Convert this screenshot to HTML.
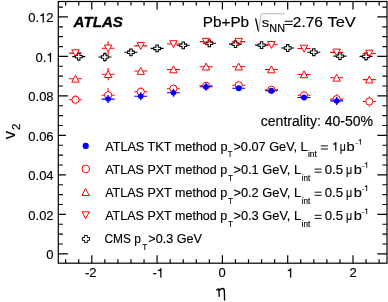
<!DOCTYPE html>
<html><head><meta charset="utf-8"><style>
html,body{margin:0;padding:0;background:#fff;}
svg{display:block;will-change:transform;}
text{font-family:"Liberation Sans",sans-serif;fill:#000;stroke:#000;stroke-width:0.15px;}
</style></head><body>
<svg width="388" height="302" viewBox="0 0 388 302">
<rect width="388" height="302" fill="#fff"/>
<rect x="58.3" y="1.5" width="328.7" height="261.7" fill="none" stroke="#000" stroke-width="1.2"/>
<path d="M58.3 253.85h9.6M387 253.85h-9.6M58.3 243.98h4.6M387 243.98h-4.6M58.3 234.1h4.6M387 234.1h-4.6M58.3 224.23h4.6M387 224.23h-4.6M58.3 214.36h7.6M387 214.36h-9.6M58.3 204.49h4.6M387 204.49h-4.6M58.3 194.62h4.6M387 194.62h-4.6M58.3 184.74h4.6M387 184.74h-4.6M58.3 174.87h7.6M387 174.87h-9.6M58.3 165h4.6M387 165h-4.6M58.3 155.12h4.6M387 155.12h-4.6M58.3 145.25h4.6M387 145.25h-4.6M58.3 135.38h7.6M387 135.38h-9.6M58.3 125.51h4.6M387 125.51h-4.6M58.3 115.63h4.6M387 115.63h-4.6M58.3 105.76h4.6M387 105.76h-4.6M58.3 95.89h9.6M387 95.89h-9.6M58.3 86.02h4.6M387 86.02h-4.6M58.3 76.15h4.6M387 76.15h-4.6M58.3 66.27h4.6M387 66.27h-4.6M58.3 56.4h9.6M387 56.4h-9.6M58.3 46.53h4.6M387 46.53h-4.6M58.3 36.66h4.6M387 36.66h-4.6M58.3 26.78h4.6M387 26.78h-4.6M58.3 16.91h9.6M387 16.91h-9.6M58.3 7.04h4.6M387 7.04h-4.6M65.68 263.2v-4M65.68 1.5v4M78.74 263.2v-4M78.74 1.5v4M91.8 263.2v-8M91.8 1.5v8M104.86 263.2v-4M104.86 1.5v4M117.92 263.2v-4M117.92 1.5v4M130.98 263.2v-4M130.98 1.5v4M144.04 263.2v-4M144.04 1.5v4M157.1 263.2v-8M157.1 1.5v8M170.16 263.2v-4M170.16 1.5v4M183.22 263.2v-4M183.22 1.5v4M196.28 263.2v-4M196.28 1.5v4M209.34 263.2v-4M209.34 1.5v4M222.4 263.2v-8M222.4 1.5v8M235.46 263.2v-4M235.46 1.5v4M248.52 263.2v-4M248.52 1.5v4M261.58 263.2v-4M261.58 1.5v4M274.64 263.2v-4M274.64 1.5v4M287.7 263.2v-8M287.7 1.5v8M300.76 263.2v-4M300.76 1.5v4M313.82 263.2v-4M313.82 1.5v4M326.88 263.2v-4M326.88 1.5v4M339.94 263.2v-4M339.94 1.5v4M353 263.2v-8M353 1.5v8M366.06 263.2v-4M366.06 1.5v4M379.12 263.2v-4M379.12 1.5v4" stroke="#000" stroke-width="1.2" fill="none"/>
<text x="46.37" y="259.35" style="font-size:13px">0</text>
<text x="28.3" y="219.86" style="font-size:13px">0.02</text>
<text x="28.3" y="180.37" style="font-size:13px">0.04</text>
<text x="28.3" y="140.88" style="font-size:13px">0.06</text>
<text x="28.3" y="101.39" style="font-size:13px">0.08</text>
<text x="35.53" y="61.9" style="font-size:13px">0.</text><path d="M51.04 61.9L51.04 52.76L50.14 52.76C49.88 53.84 48.97 54.42 47.69 54.49L47.69 55.4L49.9 55.4L49.9 61.9Z" fill="#000" stroke="#000" stroke-width="0.15"/>
<text x="28.3" y="22.41" style="font-size:13px">0.</text><text x="46.37" y="22.41" style="font-size:13px">2</text><path d="M43.81 22.41L43.81 13.27L42.91 13.27C42.65 14.35 41.74 14.93 40.46 15L40.46 15.91L42.67 15.91L42.67 22.41Z" fill="#000" stroke="#000" stroke-width="0.15"/>
<text x="85" y="277.4" style="font-size:13px">-2</text>
<text x="152.4" y="277.4" style="font-size:13px">-</text><path d="M161.4 277.4L161.4 268.26L160.5 268.26C160.24 269.34 159.33 269.92 158.04 269.99L158.04 270.9L160.25 270.9L160.25 277.4Z" fill="#000" stroke="#000" stroke-width="0.15"/>
<text x="218.55" y="277.4" style="font-size:13px">0</text>
<path d="M291.22 277.4L291.22 268.26L290.32 268.26C290.06 269.34 289.15 269.92 287.86 269.99L287.86 270.9L290.07 270.9L290.07 277.4Z" fill="#000" stroke="#000" stroke-width="0.15"/>
<text x="349.4" y="277.4" style="font-size:13px">2</text>
<path d="M216.5 290.5Q217.6 288.5 218.8 289.1L219.3 296.9M219.2 290.7Q220.6 288.3 222.5 288.5Q224.4 288.8 224.35 291.2L224.6 300.4" stroke="#000" stroke-width="1.35" fill="none"/>
<g transform="translate(14.7,139.2) rotate(-90)"><text x="0" y="0" style="font-size:16.5px">v</text><text x="9.3" y="5.6" style="font-size:11.5px">2</text></g>
<text transform="translate(73.6,26.6) scale(0.9841,1)" style="font-size:15.4px;font-weight:bold;font-style:italic;stroke-width:0.3px">ATLAS</text>
<text transform="translate(202.72,26.65) scale(1.0646,1)" style="font-size:14.4px;">Pb+Pb</text>
<path d="M255.6 18.4L258.6 31.6" stroke="#000" stroke-width="1.3" fill="none"/>
<path d="M258.6 31.6L261.2 13.8H284.4" stroke="#888" stroke-width="0.6" fill="none"/>
<text transform="translate(261.84,26.6) scale(1.1429,1)" style="font-size:13.0px;">s</text>
<text transform="translate(269.36,31.8) scale(1.0530,1)" style="font-size:10.3px;">NN</text>
<path d="M284.8 21.25H292.8M284.8 24.45H292.8" stroke="#000" stroke-width="1.15"/>
<text transform="translate(292.87,26.6) scale(1.0400,1)" style="font-size:14.8px;">2.76</text>
<text transform="translate(327.47,26.6) scale(1.0984,1)" style="font-size:15.0px;">TeV</text>
<text transform="translate(260.79,125.5) scale(1.0174,1)" style="font-size:13.8px;">centrality: 40-50%</text>
<text transform="translate(105.2,150.6) scale(1.0201,1)" style="font-size:12.4px;">ATLAS TKT method p</text>
<text transform="translate(227.72,157.45) scale(0.8958,1)" style="font-size:8.5px;">T</text>
<text transform="translate(233.38,150.6) scale(1.0281,1)" style="font-size:12.4px;">&gt;0.07 GeV, L</text>
<text x="307.9" y="157.45" style="font-size:8.5px;">int</text>
<path d="M320.8 145.9H328M320.8 149H328" stroke="#000" stroke-width="0.95"/>
<path d="M336.3 150.6L336.3 141.88L335.44 141.88C335.2 142.91 334.33 143.47 333.1 143.53L333.1 144.4L335.21 144.4L335.21 150.6Z" fill="#000" stroke="#000" stroke-width="0.15"/>
<text transform="translate(339.72,150.6) scale(0.8519,1)" style="font-size:12.4px;">&#956;</text>
<text transform="translate(346.46,150.6) scale(1.1786,1)" style="font-size:12.4px;">b</text>
<text transform="translate(355.42,144.6) scale(0.9474,1)" style="font-size:8px;">-</text>
<path d="M360.8 144.6L360.8 138.98L360.25 138.98C360.09 139.64 359.53 140 358.74 140.04L358.74 140.6L360.1 140.6L360.1 144.6Z" fill="#000" stroke="#000" stroke-width="0.15"/>
<text transform="translate(105.2,173.8) scale(1.0108,1)" style="font-size:12.4px;">ATLAS PXT method p</text>
<text transform="translate(228.11,180.65) scale(0.9583,1)" style="font-size:8.5px;">T</text>
<text transform="translate(233.38,173.8) scale(1.0373,1)" style="font-size:12.4px;">&gt;0.1 GeV, L</text>
<text transform="translate(301.63,180.65) scale(0.9518,1)" style="font-size:8.5px;">int</text>
<path d="M314.6 169.1H321.6M314.6 172.2H321.6" stroke="#000" stroke-width="0.95"/>
<text transform="translate(324.77,173.8) scale(1.0617,1)" style="font-size:12.4px;">0.5</text>
<text transform="translate(346,173.8) scale(0.8704,1)" style="font-size:12.4px;">&#956;</text>
<text transform="translate(353.66,173.8) scale(1.1786,1)" style="font-size:12.4px;">b</text>
<text transform="translate(362.12,167.8) scale(0.9474,1)" style="font-size:8px;">-</text>
<path d="M367.1 167.8L367.1 162.18L366.55 162.18C366.39 162.84 365.83 163.2 365.04 163.24L365.04 163.8L366.4 163.8L366.4 167.8Z" fill="#000" stroke="#000" stroke-width="0.15"/>
<text transform="translate(105.2,196.9) scale(1.0108,1)" style="font-size:12.4px;">ATLAS PXT method p</text>
<text transform="translate(228.11,203.75) scale(0.9583,1)" style="font-size:8.5px;">T</text>
<text transform="translate(233.38,196.9) scale(1.0373,1)" style="font-size:12.4px;">&gt;0.2 GeV, L</text>
<text transform="translate(301.63,203.75) scale(0.9518,1)" style="font-size:8.5px;">int</text>
<path d="M314.6 192.2H321.6M314.6 195.3H321.6" stroke="#000" stroke-width="0.95"/>
<text transform="translate(324.77,196.9) scale(1.0617,1)" style="font-size:12.4px;">0.5</text>
<text transform="translate(346,196.9) scale(0.8704,1)" style="font-size:12.4px;">&#956;</text>
<text transform="translate(353.66,196.9) scale(1.1786,1)" style="font-size:12.4px;">b</text>
<text transform="translate(362.12,190.9) scale(0.9474,1)" style="font-size:8px;">-</text>
<path d="M367.1 190.9L367.1 185.28L366.55 185.28C366.39 185.94 365.83 186.3 365.04 186.34L365.04 186.9L366.4 186.9L366.4 190.9Z" fill="#000" stroke="#000" stroke-width="0.15"/>
<text transform="translate(105.2,220) scale(1.0108,1)" style="font-size:12.4px;">ATLAS PXT method p</text>
<text transform="translate(228.11,226.85) scale(0.9583,1)" style="font-size:8.5px;">T</text>
<text transform="translate(233.38,220) scale(1.0373,1)" style="font-size:12.4px;">&gt;0.3 GeV, L</text>
<text transform="translate(301.63,226.85) scale(0.9518,1)" style="font-size:8.5px;">int</text>
<path d="M314.6 215.3H321.6M314.6 218.4H321.6" stroke="#000" stroke-width="0.95"/>
<text transform="translate(324.77,220) scale(1.0617,1)" style="font-size:12.4px;">0.5</text>
<text transform="translate(346,220) scale(0.8704,1)" style="font-size:12.4px;">&#956;</text>
<text transform="translate(353.66,220) scale(1.1786,1)" style="font-size:12.4px;">b</text>
<text transform="translate(362.12,214) scale(0.9474,1)" style="font-size:8px;">-</text>
<path d="M367.1 214L367.1 208.38L366.55 208.38C366.39 209.04 365.83 209.4 365.04 209.44L365.04 210L366.4 210L366.4 214Z" fill="#000" stroke="#000" stroke-width="0.15"/>
<text transform="translate(104.42,243.1) scale(0.9647,1)" style="font-size:12.4px;">CMS p</text>
<text transform="translate(142.3,249.95) scale(0.9792,1)" style="font-size:8.5px;">T</text>
<text transform="translate(148.29,243.1) scale(1.0192,1)" style="font-size:12.4px;">&gt;0.3 GeV</text>
<circle cx="85.7" cy="145.9" r="3.1" fill="#0000ff"/>
<circle cx="85.8" cy="168.9" r="3.8" fill="none" stroke="#ff0000" stroke-width="1.0"/>
<path d="M85.6 188.6L89.3 195.5H81.9Z" fill="none" stroke="#ff0000" stroke-width="1.0"/>
<path d="M85.7 218.7L89.4 211.8H82Z" fill="none" stroke="#ff0000" stroke-width="1.0"/>
<path d="M84.5 235.4L87.3 235.4L87.3 237.6L89.5 237.6L89.5 240.4L87.3 240.4L87.3 242.6L84.5 242.6L84.5 240.4L82.3 240.4L82.3 237.6L84.5 237.6Z" fill="none" stroke="#000" stroke-width="0.95"/>
<path d="M72.24 56.6H75.34M82.14 56.6H85.24" stroke="#000" stroke-width="1.1"/>
<path d="M78.74 52.2V53.2M78.74 60V61.2" stroke="#000" stroke-width="1.0"/>
<path d="M77.54 53.2L79.94 53.2L79.94 55.4L82.14 55.4L82.14 57.8L79.94 57.8L79.94 60L77.54 60L77.54 57.8L75.34 57.8L75.34 55.4L77.54 55.4Z" fill="none" stroke="#000" stroke-width="1.05"/>
<path d="M98.36 57H101.46M108.26 57H111.36" stroke="#000" stroke-width="1.1"/>
<path d="M104.86 52.4V53.6M104.86 60.4V61.6" stroke="#000" stroke-width="1.0"/>
<path d="M103.66 53.6L106.06 53.6L106.06 55.8L108.26 55.8L108.26 58.2L106.06 58.2L106.06 60.4L103.66 60.4L103.66 58.2L101.46 58.2L101.46 55.8L103.66 55.8Z" fill="none" stroke="#000" stroke-width="1.05"/>
<path d="M124.48 52.3H127.58M134.38 52.3H137.48" stroke="#000" stroke-width="1.1"/>
<path d="M129.78 48.9L132.18 48.9L132.18 51.1L134.38 51.1L134.38 53.5L132.18 53.5L132.18 55.7L129.78 55.7L129.78 53.5L127.58 53.5L127.58 51.1L129.78 51.1Z" fill="none" stroke="#000" stroke-width="1.05"/>
<path d="M150.6 48.4H153.7M160.5 48.4H163.6" stroke="#000" stroke-width="1.1"/>
<path d="M155.9 45L158.3 45L158.3 47.2L160.5 47.2L160.5 49.6L158.3 49.6L158.3 51.8L155.9 51.8L155.9 49.6L153.7 49.6L153.7 47.2L155.9 47.2Z" fill="none" stroke="#000" stroke-width="1.05"/>
<path d="M176.72 45.3H179.82M186.62 45.3H189.72" stroke="#000" stroke-width="1.1"/>
<path d="M182.02 41.9L184.42 41.9L184.42 44.1L186.62 44.1L186.62 46.5L184.42 46.5L184.42 48.7L182.02 48.7L182.02 46.5L179.82 46.5L179.82 44.1L182.02 44.1Z" fill="none" stroke="#000" stroke-width="1.05"/>
<path d="M202.84 43.3H205.94M212.74 43.3H215.84" stroke="#000" stroke-width="1.1"/>
<path d="M208.14 39.9L210.54 39.9L210.54 42.1L212.74 42.1L212.74 44.5L210.54 44.5L210.54 46.7L208.14 46.7L208.14 44.5L205.94 44.5L205.94 42.1L208.14 42.1Z" fill="none" stroke="#000" stroke-width="1.05"/>
<path d="M228.96 44.1H232.06M238.86 44.1H241.96" stroke="#000" stroke-width="1.1"/>
<path d="M234.26 40.7L236.66 40.7L236.66 42.9L238.86 42.9L238.86 45.3L236.66 45.3L236.66 47.5L234.26 47.5L234.26 45.3L232.06 45.3L232.06 42.9L234.26 42.9Z" fill="none" stroke="#000" stroke-width="1.05"/>
<path d="M255.08 45.1H258.18M264.98 45.1H268.08" stroke="#000" stroke-width="1.1"/>
<path d="M260.38 41.7L262.78 41.7L262.78 43.9L264.98 43.9L264.98 46.3L262.78 46.3L262.78 48.5L260.38 48.5L260.38 46.3L258.18 46.3L258.18 43.9L260.38 43.9Z" fill="none" stroke="#000" stroke-width="1.05"/>
<path d="M281.2 48H284.3M291.1 48H294.2" stroke="#000" stroke-width="1.1"/>
<path d="M286.5 44.6L288.9 44.6L288.9 46.8L291.1 46.8L291.1 49.2L288.9 49.2L288.9 51.4L286.5 51.4L286.5 49.2L284.3 49.2L284.3 46.8L286.5 46.8Z" fill="none" stroke="#000" stroke-width="1.05"/>
<path d="M307.32 52.2H310.42M317.22 52.2H320.32" stroke="#000" stroke-width="1.1"/>
<path d="M312.62 48.8L315.02 48.8L315.02 51L317.22 51L317.22 53.4L315.02 53.4L315.02 55.6L312.62 55.6L312.62 53.4L310.42 53.4L310.42 51L312.62 51Z" fill="none" stroke="#000" stroke-width="1.05"/>
<path d="M333.44 56.1H336.54M343.34 56.1H346.44" stroke="#000" stroke-width="1.1"/>
<path d="M339.94 59.5V60.5" stroke="#000" stroke-width="1.0"/>
<path d="M338.74 52.7L341.14 52.7L341.14 54.9L343.34 54.9L343.34 57.3L341.14 57.3L341.14 59.5L338.74 59.5L338.74 57.3L336.54 57.3L336.54 54.9L338.74 54.9Z" fill="none" stroke="#000" stroke-width="1.05"/>
<path d="M359.56 56.4H362.66M369.46 56.4H372.56" stroke="#000" stroke-width="1.1"/>
<path d="M366.06 59.8V60.6" stroke="#000" stroke-width="1.0"/>
<path d="M364.86 53L367.26 53L367.26 55.2L369.46 55.2L369.46 57.6L367.26 57.6L367.26 59.8L364.86 59.8L364.86 57.6L362.66 57.6L362.66 55.2L364.86 55.2Z" fill="none" stroke="#000" stroke-width="1.05"/>
<path d="M68.98 53.1H73.48M77.48 53.1H81.98" stroke="#ff0000" stroke-width="1.1"/>
<path d="M75.48 56.7L79.18 49.8H71.78Z" fill="none" stroke="#ff0000" stroke-width="1.0"/>
<path d="M68.98 78.8H73.48M77.48 78.8H81.98" stroke="#ff0000" stroke-width="1.1"/>
<path d="M75.48 75.2L79.18 82.1H71.78Z" fill="none" stroke="#ff0000" stroke-width="1.0"/>
<path d="M68.98 99.7H71.78M79.18 99.7H81.98" stroke="#ff0000" stroke-width="1.1"/>
<circle cx="75.48" cy="99.7" r="3.6" fill="none" stroke="#ff0000" stroke-width="1.0"/>
<path d="M101.63 48.3H106.13M110.13 48.3H114.63" stroke="#ff0000" stroke-width="1.1"/>
<path d="M108.13 51.9L111.83 45H104.43Z" fill="none" stroke="#ff0000" stroke-width="1.0"/>
<path d="M101.63 74.2H106.13M110.13 74.2H114.63" stroke="#ff0000" stroke-width="1.1"/>
<path d="M108.13 70.6L111.83 77.5H104.43Z" fill="none" stroke="#ff0000" stroke-width="1.0"/>
<path d="M101.63 95.2H104.43M111.83 95.2H114.63" stroke="#ff0000" stroke-width="1.1"/>
<circle cx="108.13" cy="95.2" r="3.6" fill="none" stroke="#ff0000" stroke-width="1.0"/>
<path d="M134.28 45.9H138.78M142.78 45.9H147.28" stroke="#ff0000" stroke-width="1.1"/>
<path d="M140.78 49.5L144.47 42.6H137.08Z" fill="none" stroke="#ff0000" stroke-width="1.0"/>
<path d="M134.28 71H138.78M142.78 71H147.28" stroke="#ff0000" stroke-width="1.1"/>
<path d="M140.78 67.4L144.47 74.3H137.08Z" fill="none" stroke="#ff0000" stroke-width="1.0"/>
<path d="M134.28 91.8H137.08M144.47 91.8H147.28" stroke="#ff0000" stroke-width="1.1"/>
<circle cx="140.78" cy="91.8" r="3.6" fill="none" stroke="#ff0000" stroke-width="1.0"/>
<path d="M166.93 44H171.43M175.43 44H179.93" stroke="#ff0000" stroke-width="1.1"/>
<path d="M173.43 47.6L177.12 40.7H169.73Z" fill="none" stroke="#ff0000" stroke-width="1.0"/>
<path d="M166.93 69.5H171.43M175.43 69.5H179.93" stroke="#ff0000" stroke-width="1.1"/>
<path d="M173.43 65.9L177.12 72.8H169.73Z" fill="none" stroke="#ff0000" stroke-width="1.0"/>
<path d="M166.93 88.7H169.73M177.12 88.7H179.93" stroke="#ff0000" stroke-width="1.1"/>
<circle cx="173.43" cy="88.7" r="3.6" fill="none" stroke="#ff0000" stroke-width="1.0"/>
<path d="M199.58 41.6H204.08M208.08 41.6H212.58" stroke="#ff0000" stroke-width="1.1"/>
<path d="M206.08 45.2L209.78 38.3H202.38Z" fill="none" stroke="#ff0000" stroke-width="1.0"/>
<path d="M199.58 66.7H204.08M208.08 66.7H212.58" stroke="#ff0000" stroke-width="1.1"/>
<path d="M206.08 63.1L209.78 70H202.38Z" fill="none" stroke="#ff0000" stroke-width="1.0"/>
<path d="M199.58 85.7H202.38M209.78 85.7H212.58" stroke="#ff0000" stroke-width="1.1"/>
<circle cx="206.08" cy="85.7" r="3.6" fill="none" stroke="#ff0000" stroke-width="1.0"/>
<path d="M232.22 41.6H236.72M240.72 41.6H245.22" stroke="#ff0000" stroke-width="1.1"/>
<path d="M238.72 45.2L242.42 38.3H235.03Z" fill="none" stroke="#ff0000" stroke-width="1.0"/>
<path d="M232.22 66.7H236.72M240.72 66.7H245.22" stroke="#ff0000" stroke-width="1.1"/>
<path d="M238.72 63.1L242.42 70H235.03Z" fill="none" stroke="#ff0000" stroke-width="1.0"/>
<path d="M232.22 85.2H235.03M242.42 85.2H245.22" stroke="#ff0000" stroke-width="1.1"/>
<circle cx="238.72" cy="85.2" r="3.6" fill="none" stroke="#ff0000" stroke-width="1.0"/>
<path d="M264.88 44.8H269.38M273.38 44.8H277.88" stroke="#ff0000" stroke-width="1.1"/>
<path d="M271.38 48.4L275.07 41.5H267.68Z" fill="none" stroke="#ff0000" stroke-width="1.0"/>
<path d="M264.88 69.5H269.38M273.38 69.5H277.88" stroke="#ff0000" stroke-width="1.1"/>
<path d="M271.38 65.9L275.07 72.8H267.68Z" fill="none" stroke="#ff0000" stroke-width="1.0"/>
<path d="M264.88 89.7H267.68M275.07 89.7H277.88" stroke="#ff0000" stroke-width="1.1"/>
<circle cx="271.38" cy="89.7" r="3.6" fill="none" stroke="#ff0000" stroke-width="1.0"/>
<path d="M297.52 48.5H302.02M306.02 48.5H310.52" stroke="#ff0000" stroke-width="1.1"/>
<path d="M304.02 52.1L307.72 45.2H300.32Z" fill="none" stroke="#ff0000" stroke-width="1.0"/>
<path d="M297.52 74.5H302.02M306.02 74.5H310.52" stroke="#ff0000" stroke-width="1.1"/>
<path d="M304.02 70.9L307.72 77.8H300.32Z" fill="none" stroke="#ff0000" stroke-width="1.0"/>
<path d="M297.52 95.3H300.32M307.72 95.3H310.52" stroke="#ff0000" stroke-width="1.1"/>
<circle cx="304.02" cy="95.3" r="3.6" fill="none" stroke="#ff0000" stroke-width="1.0"/>
<path d="M330.18 52.4H334.68M338.68 52.4H343.18" stroke="#ff0000" stroke-width="1.1"/>
<path d="M336.68 56L340.38 49.1H332.98Z" fill="none" stroke="#ff0000" stroke-width="1.0"/>
<path d="M330.18 77.8H334.68M338.68 77.8H343.18" stroke="#ff0000" stroke-width="1.1"/>
<path d="M336.68 74.2L340.38 81.1H332.98Z" fill="none" stroke="#ff0000" stroke-width="1.0"/>
<path d="M330.18 99.1H332.98M340.38 99.1H343.18" stroke="#ff0000" stroke-width="1.1"/>
<circle cx="336.68" cy="99.1" r="3.6" fill="none" stroke="#ff0000" stroke-width="1.0"/>
<path d="M362.82 53.5H367.32M371.32 53.5H375.82" stroke="#ff0000" stroke-width="1.1"/>
<path d="M369.32 57.1L373.02 50.2H365.62Z" fill="none" stroke="#ff0000" stroke-width="1.0"/>
<path d="M362.82 79.6H367.32M371.32 79.6H375.82" stroke="#ff0000" stroke-width="1.1"/>
<path d="M369.32 76L373.02 82.9H365.62Z" fill="none" stroke="#ff0000" stroke-width="1.0"/>
<path d="M362.82 101.5H365.62M373.02 101.5H375.82" stroke="#ff0000" stroke-width="1.1"/>
<circle cx="369.32" cy="101.5" r="3.6" fill="none" stroke="#ff0000" stroke-width="1.0"/>
<path d="M108.13 41.3V44.9M108.13 51.7V55.3" stroke="#ff0000" stroke-width="1.1"/>
<path d="M108.13 68.1V70.8M108.13 77.6V80.3" stroke="#ff0000" stroke-width="1.1"/>
<path d="M75.48 95V95.7M75.48 103.7V104.4" stroke="#ff0000" stroke-width="1.1"/>
<path d="M108.13 88.2V91.2M108.13 99.2V99.6" stroke="#ff0000" stroke-width="1.1"/>
<path d="M140.78 87V87.8M140.78 95.8V96.2" stroke="#ff0000" stroke-width="1.1"/>
<path d="M336.68 94.3V95.1M336.68 103.1V103.5" stroke="#ff0000" stroke-width="1.1"/>
<path d="M369.32 96.3V97.5M369.32 105.5V106.7" stroke="#ff0000" stroke-width="1.1"/>
<path d="M101.63 99.1H108.13M108.13 99.1H114.63" stroke="#0000ff" stroke-width="1.1"/>
<path d="M108.13 95.1V99.1M108.13 99.1V103.1" stroke="#0000ff" stroke-width="1.3"/>
<circle cx="108.13" cy="99.1" r="2.75" fill="#0000ff"/>
<path d="M134.28 96.2H140.78M140.78 96.2H147.28" stroke="#0000ff" stroke-width="1.1"/>
<path d="M140.78 92.2V96.2M140.78 96.2V100.2" stroke="#0000ff" stroke-width="1.3"/>
<circle cx="140.78" cy="96.2" r="2.75" fill="#0000ff"/>
<path d="M166.93 92.8H173.43M173.43 92.8H179.93" stroke="#0000ff" stroke-width="1.1"/>
<path d="M173.43 88.8V92.8M173.43 92.8V96.8" stroke="#0000ff" stroke-width="1.3"/>
<circle cx="173.43" cy="92.8" r="2.75" fill="#0000ff"/>
<path d="M199.58 86.7H206.08M206.08 86.7H212.58" stroke="#0000ff" stroke-width="1.1"/>
<path d="M206.08 82.7V86.7M206.08 86.7V90.7" stroke="#0000ff" stroke-width="1.3"/>
<circle cx="206.08" cy="86.7" r="2.75" fill="#0000ff"/>
<path d="M232.22 88.3H238.72M238.72 88.3H245.22" stroke="#0000ff" stroke-width="1.1"/>
<circle cx="238.72" cy="88.3" r="2.95" fill="#0000ff"/>
<path d="M264.88 90.7H271.38M271.38 90.7H277.88" stroke="#0000ff" stroke-width="1.1"/>
<circle cx="271.38" cy="90.7" r="2.95" fill="#0000ff"/>
<path d="M297.52 97.5H304.02M304.02 97.5H310.52" stroke="#0000ff" stroke-width="1.1"/>
<circle cx="304.02" cy="97.5" r="2.95" fill="#0000ff"/>
<path d="M330.18 100.9H336.68M336.68 100.9H343.18" stroke="#0000ff" stroke-width="1.1"/>
<path d="M336.68 96.9V100.9M336.68 100.9V104.9" stroke="#0000ff" stroke-width="1.3"/>
<circle cx="336.68" cy="100.9" r="2.75" fill="#0000ff"/>
</svg>
</body></html>
